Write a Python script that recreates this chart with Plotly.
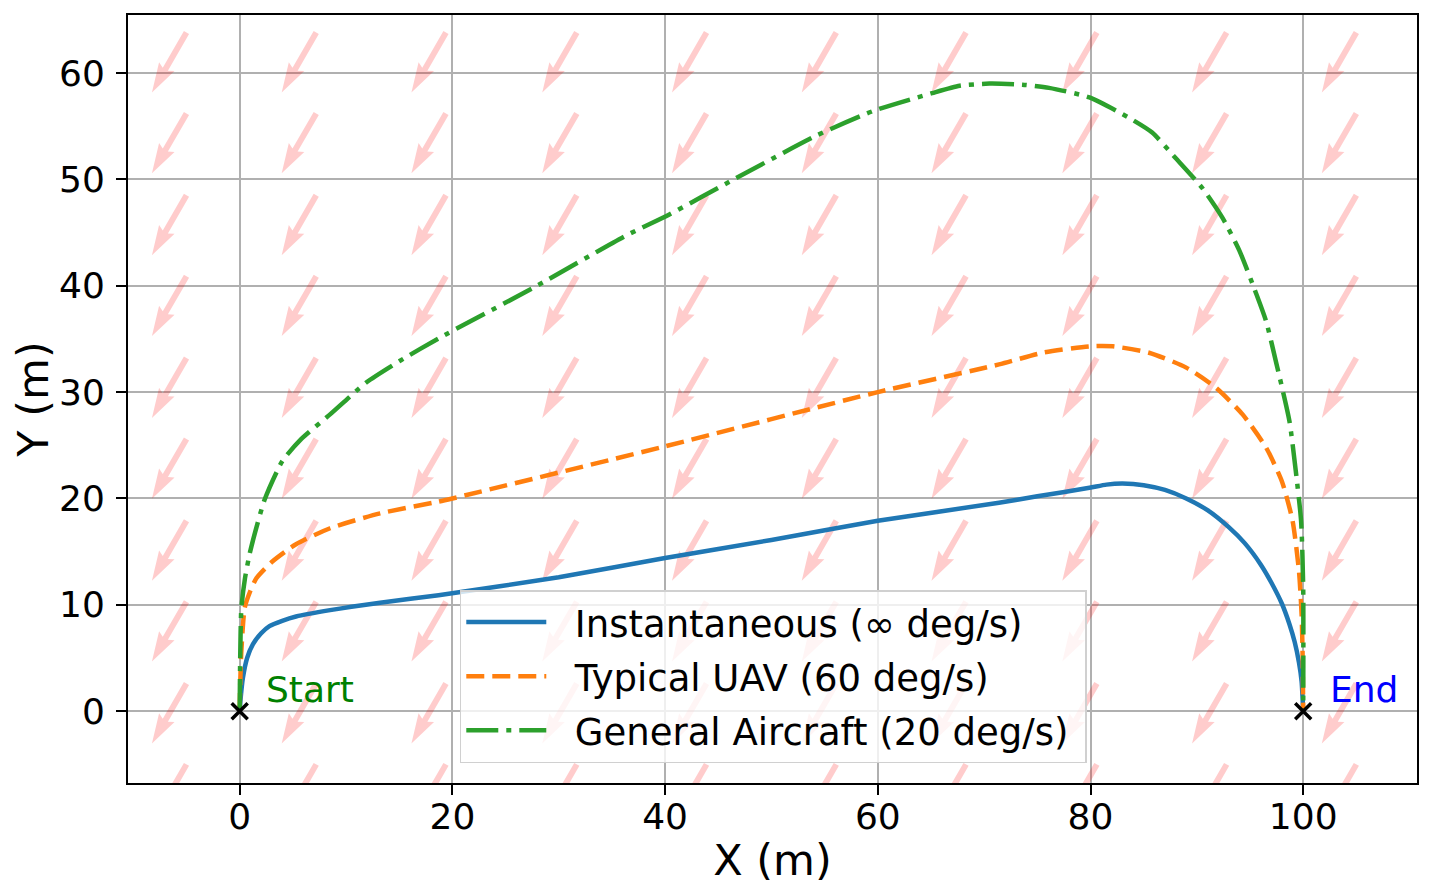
import numpy as np
import plotly.graph_objects as go

# path: instantaneous turn
instant_x = [0, 0.1, 0.3, 0.7, 1.25, 2.0, 2.8, 4.0, 5.3, 8.5, 13.2, 18.7, 30, 40, 50, 60,
             71.4, 75, 79.9, 81.5, 83, 85, 87, 89, 91, 93, 94.5, 96, 97, 98, 98.7, 99.2,
             99.6, 99.85, 100]
instant_y = [0, 1.3, 3.1, 5.0, 6.3, 7.3, 8.0, 8.5, 8.9, 9.5, 10.2, 10.9, 12.6, 14.4, 16.1, 17.9,
             19.6, 20.2, 21.0, 21.3, 21.4, 21.25, 20.8, 20.0, 18.9, 17.3, 15.8, 13.8, 12.1, 10.1, 8.2,
             6.5, 4.6, 2.8, 0]

# typical UAV, 60 deg/s
uav_x = [0, 0.05, 0.15, 0.47, 1.0, 1.57, 3.1, 5.3, 8.5, 13.2, 18.7, 20, 40, 60, 71.4, 75.5,
         79.9, 82.1, 85.5, 89, 91.8, 94.3, 96.5, 98, 99, 99.6, 99.85, 99.95, 100]
uav_y = [0, 2.5, 5.5, 9.7, 11.3, 12.5, 14.1, 15.7, 17.2, 18.6, 19.7, 20.0, 24.9, 30.0, 32.6, 33.7,
         34.3, 34.3, 33.7, 32.3, 30.4, 27.9, 24.8, 21.6, 17.9, 13.2, 9.1, 5.0, 0]

# general aircraft, 20 deg/s
air_x = [0, 0.05, 0.16, 0.5, 0.94, 1.5, 2.35, 4.0, 5.8, 8.5, 11.9, 15, 18.8, 27.6, 36.3, 40.4,
         46.1, 54.2, 59.5, 65.1, 67.7, 70.5, 73.6, 76.1, 79.9, 83.6, 85.8, 88, 90.5, 92.4,
         94, 95.6, 96.5, 97.5, 98.7, 99.3, 99.8, 100, 100]
air_y = [0, 5, 9.7, 12.5, 14.8, 17.0, 19.9, 23.5, 25.6, 27.9, 30.9, 32.9, 35.1, 39.8, 44.7, 46.7,
         49.8, 54.1, 56.4, 58.1, 58.8, 59.0, 58.9, 58.6, 57.7, 55.8, 54.4, 52.0, 49.2, 46.4,
         43.3, 39.2, 36.7, 32.6, 27.3, 22.6, 17.9, 11.6, 0]

# wind field grid (quiver tails) and direction
wind_x = [-5, 7.2, 19.4, 31.7, 43.9, 56.1, 68.3, 80.6, 92.8, 105]
wind_y = [-5, 2.6, 10.3, 17.9, 25.6, 33.2, 40.9, 48.5, 56.2, 63.8]
wind_dir = 240  # degrees
wind_len = 6.5

start_pt = (0, 0)
end_pt = (100, 0)


def arrow_shapes(xs, ys, ang, length, w=0.56):
    # quiver-like filled arrows, one polygon per grid point
    c, s = np.cos(np.radians(ang)), np.sin(np.radians(ang))
    u = [0, length - 4.5 * w, length - 5 * w, length, length - 5 * w, length - 4.5 * w, 0, 0]
    v = [-w / 2, -w / 2, -1.5 * w, 0, 1.5 * w, w / 2, w / 2, -w / 2]
    px, py = [], []
    for x0 in xs:
        for y0 in ys:
            for a, b in zip(u, v):
                px.append(x0 + a * c - b * s)
                py.append(y0 + a * s + b * c)
            px.append(None)
            py.append(None)
    return px, py


fig = go.Figure()

ax_, ay_ = arrow_shapes(wind_x, wind_y, wind_dir, wind_len)
fig.add_trace(go.Scatter(x=ax_, y=ay_, mode='lines', fill='toself',
                         fillcolor='rgba(255,0,0,0.2)', line=dict(width=0),
                         hoverinfo='skip', showlegend=False))

pad = '\u00a0\u00a0'
fig.add_trace(go.Scatter(x=instant_x, y=instant_y, mode='lines',
                         line_shape='spline', name=pad + 'Instantaneous (∞ deg/s)\u00a0', legendgroup='a',
                         line=dict(color='#1f77b4', width=4.5, smoothing=0.6)))
fig.add_trace(go.Scatter(x=uav_x, y=uav_y, mode='lines',
                         line_shape='spline', name=pad + 'Typical UAV (60 deg/s)\u00a0', legendgroup='b',
                         line=dict(color='#ff7f0e', width=4.5, dash='18px,8px', smoothing=0.6)))
fig.add_trace(go.Scatter(x=air_x, y=air_y, mode='lines',
                         line_shape='spline', name=pad + 'General Aircraft (20 deg/s)\u00a0', legendgroup='c',
                         line=dict(color='#2ca02c', width=4.5, dash='32px,8px,5px,8px', smoothing=0.6)))

fig.add_trace(go.Scatter(x=[start_pt[0], end_pt[0]], y=[start_pt[1], end_pt[1]], mode='markers',
                         marker=dict(symbol='x-thin', size=16, color='black',
                                     line=dict(color='black', width=3.5)),
                         showlegend=False, hoverinfo='skip'))

fig.add_annotation(x=2.3, y=2.0, text='Start', showarrow=False, xanchor='left', yanchor='middle',
                   font=dict(color='green', size=36))
fig.add_annotation(x=102.3, y=2.0, text='End', showarrow=False, xanchor='left', yanchor='middle',
                   font=dict(color='blue', size=36))

axis_style = dict(showgrid=True, gridcolor='#b0b0b0', gridwidth=1.5, zeroline=False,
                  showline=True, mirror=True, linecolor='black', linewidth=2,
                  ticks='outside', ticklen=10, tickwidth=1.5, tickcolor='black',
                  tickfont=dict(size=36, color='black'))

fig.update_xaxes(range=[-10.5, 110.7], dtick=20, ticklabelstandoff=-9,
                 title=dict(text='X (m)', font=dict(size=43), standoff=11), **axis_style)
fig.update_yaxes(range=[-6.75, 65.45], dtick=10, ticklabelstandoff=4,
                 title=dict(text='Y (m)', font=dict(size=43), standoff=6), **axis_style)

fig.update_layout(
    width=1416, height=877,
    margin=dict(l=120, r=6, t=5, b=102),
    plot_bgcolor='white', paper_bgcolor='white',
    font=dict(family='DejaVu Sans', color='black'),
    legend=dict(x=0.2574, y=0.026, xanchor='left', yanchor='bottom',
                bgcolor='rgba(255,255,255,0.8)', bordercolor='#d0d0d0', borderwidth=1.5,
                font=dict(size=37), itemwidth=80, tracegroupgap=3),
)

fig.write_html("out.html")
